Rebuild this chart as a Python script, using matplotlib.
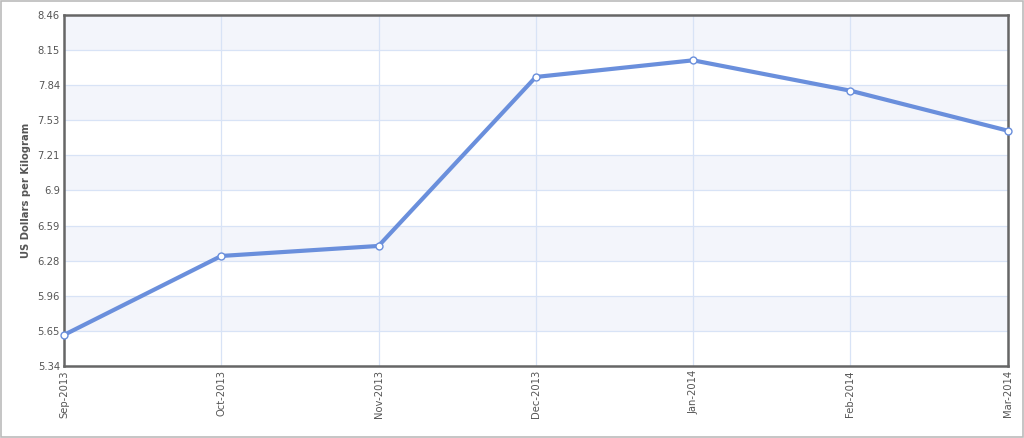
import numpy as np
import matplotlib
matplotlib.use("Agg")
import matplotlib.pyplot as plt
from matplotlib.patches import Rectangle

months = ["Sep-2013", "Oct-2013", "Nov-2013", "Dec-2013", "Jan-2014", "Feb-2014", "Mar-2014"]
prices = [5.616, 6.318, 6.407, 7.909, 8.057, 7.787, 7.432]
y_ticks = [5.34, 5.652, 5.964, 6.276, 6.588, 6.9, 7.212, 7.524, 7.836, 8.148, 8.46]
y_labels = ["5.34", "5.65", "5.96", "6.28", "6.59", "6.9", "7.21", "7.53", "7.84", "8.15", "8.46"]

line_col = "#6a8fdc"
txt_col = "#555555"

fig = plt.figure(figsize=(10.24, 4.38), dpi=100)
fig.patches.append(Rectangle((0.001, 0.002), 0.998, 0.996, transform=fig.transFigure,
                             fill=False, edgecolor="#bbbbbb", linewidth=1.2))
ax = fig.add_axes([0.0625, 0.1644, 0.9215, 0.8014])

x = np.arange(len(months))

# alternating bands
for i in range(len(y_ticks) - 1):
    if i % 2 == 1:
        ax.axhspan(y_ticks[i], y_ticks[i + 1], color="#f3f5fb", zorder=0, lw=0)

ax.set_ylim(y_ticks[0], y_ticks[-1])
ax.set_xlim(x[0], x[-1])
ax.set_yticks(y_ticks)
ax.set_yticklabels(y_labels)
ax.set_xticks(x)
ax.set_xticklabels(months, rotation=90)
ax.grid(True, color="#d8e3f6", linewidth=0.9, zorder=1)

ax.plot(x, prices, color=line_col, linewidth=3.0, zorder=3, solid_joinstyle="round",
        marker="o", markersize=5, markerfacecolor="white", markeredgecolor=line_col,
        markeredgewidth=1.0, clip_on=False)

for s in ax.spines.values():
    s.set_color("#666666")
    s.set_linewidth(1.8)
ax.tick_params(axis="both", length=0, labelsize=7.2, labelcolor=txt_col, pad=3)
ax.set_ylabel("US Dollars per Kilogram", fontsize=7.2, fontweight="bold", color=txt_col, labelpad=5)

fig.savefig("out.png", dpi=100)
